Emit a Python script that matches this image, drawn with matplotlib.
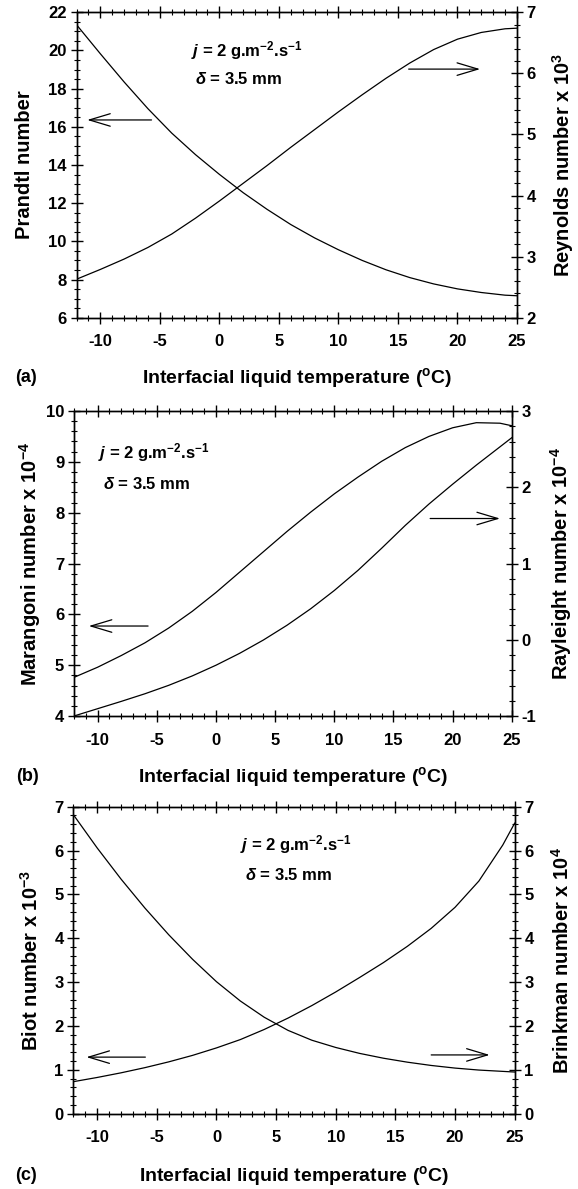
import matplotlib
matplotlib.use("Agg")
import matplotlib.pyplot as plt
from matplotlib.ticker import MultipleLocator

plt.rcParams["font.family"] = ["Liberation Sans", "DejaVu Sans"]
plt.rcParams["font.weight"] = "bold"
plt.rcParams["mathtext.fontset"] = "custom"
plt.rcParams["mathtext.rm"] = "Liberation Sans:bold"
plt.rcParams["mathtext.bf"] = "Liberation Sans:bold"
plt.rcParams["mathtext.it"] = "Liberation Sans:bold:italic"
plt.rcParams["mathtext.sf"] = "Liberation Sans:bold"
plt.rcParams["mathtext.default"] = "rm"
plt.rcParams["axes.linewidth"] = 1.0
plt.rcParams["axes.unicode_minus"] = False

# interfacial liquid temperature (degC), same sampling for every curve
temperature = [-12, -10, -8, -6, -4, -2, 0, 2, 4, 6, 8, 10, 12, 14, 16, 18, 20, 22, 24, 25]

# (a)
prandtl = [21.35, 19.83, 18.35, 16.95, 15.67, 14.54, 13.51, 12.55, 11.68, 10.88,
           10.18, 9.56, 9.0, 8.51, 8.10, 7.77, 7.51, 7.32, 7.18, 7.15]
reynolds = [2.63, 2.79, 2.96, 3.15, 3.37, 3.63, 3.91, 4.20, 4.49, 4.79,
            5.08, 5.37, 5.65, 5.92, 6.17, 6.39, 6.56, 6.67, 6.73, 6.74]

# (b)
marangoni = [4.76, 4.96, 5.19, 5.44, 5.73, 6.06, 6.43, 6.83, 7.23, 7.63,
             8.01, 8.37, 8.70, 9.01, 9.28, 9.50, 9.67, 9.77, 9.76, 9.71]
rayleigh = [-1.0, -0.904, -0.808, -0.708, -0.598, -0.474, -0.334, -0.178, -0.004, 0.19,
            0.406, 0.646, 0.91, 1.20, 1.50, 1.78, 2.04, 2.29, 2.53, 2.65]

# (c)
biot = [0.73, 0.826, 0.932, 1.05, 1.182, 1.33, 1.50, 1.69, 1.92, 2.18,
        2.466, 2.776, 3.106, 3.446, 3.816, 4.226, 4.706, 5.306, 6.126, 6.626]
brinkman = [6.82, 6.06, 5.35, 4.69, 4.08, 3.52, 3.01, 2.57, 2.20, 1.90,
            1.675, 1.51, 1.375, 1.265, 1.175, 1.10, 1.04, 0.995, 0.965, 0.95]

XLABEL = r"Interfacial liquid temperature ($^{\mathrm{o}}$C)"
NOTE_J = r"$\mathit{j}$ = 2 g.m$^{-2}$.s$^{-1}$"
NOTE_D = r"$\mathit{δ}$ = 3.5 mm"

W, H = 578, 1189
fig = plt.figure(figsize=(W / 100, H / 100), dpi=100)


def make_panel(box, left_lim, left_major, left_minor, right_lim, right_major, right_minor):
    l, r, t, b = box
    ax = fig.add_axes([l / W, 1 - b / H, (r - l) / W, (b - t) / H])
    ax2 = ax.twinx()
    ax.set_xlim(-12, 25)
    ax.set_ylim(*left_lim)
    ax2.set_ylim(*right_lim)
    ax.xaxis.set_major_locator(MultipleLocator(5))
    ax.xaxis.set_minor_locator(MultipleLocator(1))
    ax.yaxis.set_major_locator(MultipleLocator(left_major))
    ax.yaxis.set_minor_locator(MultipleLocator(left_minor))
    ax2.yaxis.set_major_locator(MultipleLocator(right_major))
    ax2.yaxis.set_minor_locator(MultipleLocator(right_minor))
    for a in (ax, ax2):
        a.tick_params(which="major", direction="inout", length=8, width=1.0, labelsize=12)
        a.tick_params(which="minor", direction="inout", length=4, width=0.8)
    ax.tick_params(axis="x", which="both", top=True, bottom=True, pad=8)
    ax.tick_params(axis="y", which="both", left=True, right=False, pad=3)
    ax2.tick_params(axis="y", which="both", right=True, left=False, pad=3)
    for lab in ax.get_xticklabels() + ax.get_yticklabels() + ax2.get_yticklabels():
        lab.set_fontweight("bold")
    return ax, ax2


def arrow(ax, tail, tip):
    ax.annotate("", xy=tip, xytext=tail,
                arrowprops=dict(arrowstyle="->,head_length=1.5,head_width=0.45",
                                lw=0.9, color="black", shrinkA=0, shrinkB=0,
                                mutation_scale=10))


def labels(ax, ax2, left_text, right_text, lx, rx, xl_y, note_x, note_y):
    ax.set_xlabel(XLABEL, fontsize=14, fontweight="bold", va="center")
    ax.xaxis.set_label_coords(0.5, xl_y)
    ax.set_ylabel(left_text, fontsize=14.5, fontweight="bold", va="center")
    ax.yaxis.set_label_coords(lx, 0.5)
    ax2.set_ylabel(right_text, fontsize=14.5, fontweight="bold", va="center", rotation=90)
    ax2.yaxis.set_label_coords(rx, 0.5)
    ax.text(note_x[0], note_y[0], NOTE_J, transform=ax.transAxes, fontsize=12,
            fontweight="bold", ha="left", va="baseline")
    ax.text(note_x[1], note_y[1], NOTE_D, transform=ax.transAxes, fontsize=12,
            fontweight="bold", ha="left", va="baseline")


# ---- (a)
ax, ax2 = make_panel((76.5, 517, 12.3, 317.7), (6, 22), 2, 0.5, (2, 7), 1, 0.2)
ax.plot(temperature, prandtl, color="black", lw=0.9)
ax2.plot(temperature, reynolds, color="black", lw=0.9)
arrow(ax, (-5.7, 16.36), (-11.1, 16.36))
arrow(ax2, (15.9, 6.07), (21.9, 6.07))
labels(ax, ax2, "Prandtl number", r"Reynolds number x 10$^{3}$",
       -0.117, 1.104, -0.197, (0.261, 0.269), (0.857, 0.764))
fig.text(15 / W, 1 - 378 / H, "(a)", fontsize=13, fontweight="bold", va="center")

# ---- (b)
ax, ax2 = make_panel((74, 511.8, 411, 716), (4, 10), 1, 0.2, (-1, 3), 1, 0.2)
ax.plot(temperature, marangoni, color="black", lw=0.9)
ax2.plot(temperature, rayleigh, color="black", lw=0.9)
arrow(ax, (-5.74, 5.77), (-10.75, 5.77))
arrow(ax2, (18.1, 1.59), (24.0, 1.59))
labels(ax, ax2, r"Marangoni number x 10$^{-4}$", r"Rayleight number x 10$^{-4}$",
       -0.1005, 1.112, -0.199, (0.054, 0.067), (0.843, 0.744))
fig.text(16.5 / W, 1 - 776.7 / H, "(b)", fontsize=13, fontweight="bold", va="center")

# ---- (c)
ax, ax2 = make_panel((73.3, 514.7, 806.7, 1113.7), (0, 7), 1, 0.2, (0, 7), 1, 0.2)
ax.plot(temperature, biot, color="black", lw=0.9)
ax2.plot(temperature, brinkman, color="black", lw=0.9)
arrow(ax, (-5.96, 1.29), (-10.9, 1.29))
arrow(ax2, (18.0, 1.34), (22.9, 1.34))
labels(ax, ax2, r"Biot number x 10$^{-3}$", r"Brinkman number x 10$^{4}$",
       -0.096, 1.106, -0.202, (0.378, 0.389), (0.857, 0.760))
fig.text(15 / W, 1 - 1175.7 / H, "(c)", fontsize=13, fontweight="bold", va="center")

fig.savefig("out.png", dpi=100)
